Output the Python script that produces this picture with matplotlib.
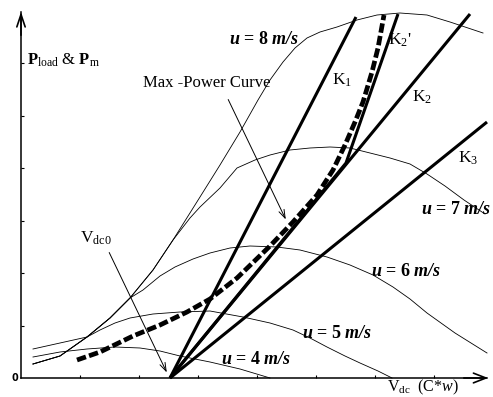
import matplotlib
matplotlib.use('Agg')
import matplotlib.pyplot as plt

plt.rcParams['font.family'] = ['Liberation Serif', 'DejaVu Serif']
plt.rcParams['mathtext.fontset'] = 'custom'
plt.rcParams['mathtext.rm'] = 'Liberation Serif'
plt.rcParams['mathtext.it'] = 'Liberation Serif:italic'
plt.rcParams['mathtext.bf'] = 'Liberation Serif:bold'
plt.rcParams['mathtext.bfit'] = 'Liberation Serif:italic:bold'

# schematic units: origin at the axes corner
u4_x = [12, 39, 66, 94, 119, 139, 159, 189, 219, 249]
u4_y = [21, 26, 29, 31, 30, 27, 22, 16, 9, 0]

u5_x = [12, 39, 66, 79, 94, 109, 132, 159, 189, 222, 249, 272, 289, 306, 324, 339, 357, 371]
u5_y = [29, 35, 41, 48, 55, 60, 64, 66, 67, 61, 55, 48, 40, 31, 22, 15, 7, 0]

u6_x = [12, 39, 66, 89, 109, 122, 139, 154, 172, 189, 209, 229, 256, 279, 306, 329, 352, 372, 389, 406, 434, 466]
u6_y = [14, 22, 41, 60, 80, 88, 102, 111, 119, 125, 130, 132, 131, 128, 121, 113, 103, 91, 79, 65, 45, 25]

u7_x = [12, 39, 66, 89, 109, 132, 152, 169, 179, 199, 216, 234, 249, 269, 289, 309, 329, 349, 369, 389, 406, 424, 443, 464]
u7_y = [14, 22, 41, 60, 80, 108, 138, 160, 171, 190, 210, 218, 223, 228, 230, 231, 230, 225, 220, 214, 204, 192, 178, 164]

u8_x = [12, 39, 66, 89, 109, 132, 152, 179, 199, 219, 237, 249, 262, 274, 286, 299, 316, 336, 356, 379, 406, 429, 462]
u8_y = [14, 22, 41, 60, 80, 108, 138, 181, 213, 246, 278, 298, 316, 330, 340, 346, 351, 358, 363, 365, 363, 356, 345]

mpc_x = [56, 79, 112, 139, 166, 189, 216, 249, 272, 296, 312, 324, 334, 342, 351, 357, 363]
mpc_y = [18, 26, 42, 53, 66, 79, 100, 132, 156, 183, 208, 233, 256, 276, 306, 330, 363]

vdc0 = (149, 0)
k1_end = (335, 361)
k2_end = (449, 364)
k2p_knee = (325, 215)
k2p_end = (377, 364)
k3_end = (466, 256)

x_ticks = [59, 118, 177, 236, 295, 354, 413]
y_ticks = [52.5, 105, 157.5, 210, 262.5, 315]

fig = plt.figure(figsize=(4.93, 3.97), dpi=100)
ax = fig.add_axes([0, 0, 1, 1])
ax.set_xlim(-21, 472)
ax.set_ylim(-19, 378)

# axes drawn as arrows through the origin
for side in ['top', 'right']:
    ax.spines[side].set_visible(False)
ax.spines['left'].set_position(('data', 0))
ax.spines['bottom'].set_position(('data', 0))
ax.spines['left'].set_bounds(0, 366)
ax.spines['bottom'].set_bounds(0, 466)
ax.spines['left'].set_linewidth(1.1)
ax.spines['bottom'].set_linewidth(1.1)
ax.set_xticks(x_ticks)
ax.set_yticks(y_ticks)
ax.tick_params(direction='in', length=2.5, width=0.8, labelbottom=False, labelleft=False)
ax.annotate('', xy=(0, 369), xytext=(0, 340),
            arrowprops=dict(arrowstyle='->,head_length=0.9,head_width=0.3', lw=1.2, color='black'))
ax.annotate('', xy=(470, 0), xytext=(440, 0),
            arrowprops=dict(arrowstyle='->,head_length=0.9,head_width=0.35', lw=1.2, color='black'))

thin = dict(color='black', lw=0.6)
for xs, ys in [(u4_x, u4_y), (u5_x, u5_y), (u6_x, u6_y), (u7_x, u7_y), (u8_x, u8_y)]:
    ax.plot(xs, ys, **thin)

thick = dict(color='black', lw=2.2, solid_capstyle='butt')
ax.plot([vdc0[0], k1_end[0]], [vdc0[1], k1_end[1]], **thick)
ax.plot([vdc0[0], k2_end[0]], [vdc0[1], k2_end[1]], **thick)
ax.plot([vdc0[0], k2p_knee[0], k2p_end[0]], [vdc0[1], k2p_knee[1], k2p_end[1]], **thick)
ax.plot([vdc0[0], k3_end[0]], [vdc0[1], k3_end[1]], **thick)

ax.plot(mpc_x, mpc_y, color='black', lw=3.4, linestyle=(0, (2.0, 0.7)), dash_capstyle='butt')

# annotations
ax.annotate('', xy=(147, 3), xytext=(87, 128),
            arrowprops=dict(arrowstyle='->,head_length=0.6,head_width=0.2', lw=0.7, color='black'))
ax.annotate('', xy=(266, 156), xytext=(206, 281),
            arrowprops=dict(arrowstyle='->,head_length=0.6,head_width=0.2', lw=0.7, color='black'))

ax.text(-6, 0, '0', fontsize=7, fontweight='bold', family='DejaVu Sans', ha='center', va='center')
ax.text(6, 318, r'$\mathbf{P}_{\mathrm{load}}$ & $\mathbf{P}_{\mathrm{m}}$', fontsize=12, va='center')
ax.text(122, 295, 'Max -Power Curve', fontsize=12, va='center')
ax.text(59, 140, r'V$_{\mathrm{dc0}}$', fontsize=12.5, va='center')
ax.text(366, -9, r'V$_{\mathrm{dc}}$  (C*$\it{w}$)', fontsize=11.5, va='center')

ax.text(311, 298, r'K$_{1}$', fontsize=12.5, va='center')
ax.text(367, 338, r"K$_{2}$'", fontsize=12.5, va='center')
ax.text(391, 281, r'K$_{2}$', fontsize=12.5, va='center')
ax.text(437, 220, r'K$_{3}$', fontsize=12.5, va='center')

speed_labels = [('8', 208, 338), ('7', 400, 168), ('6', 350, 106), ('5', 281, 45), ('4', 200, 18)]
for s, lx, ly in speed_labels:
    ax.text(lx, ly, r'$\mathbfit{u}$ = ' + s + r' $\mathbfit{m/s}$', fontsize=13,
            fontweight='bold', va='center')

fig.savefig('out.png', dpi=100, facecolor='white')
